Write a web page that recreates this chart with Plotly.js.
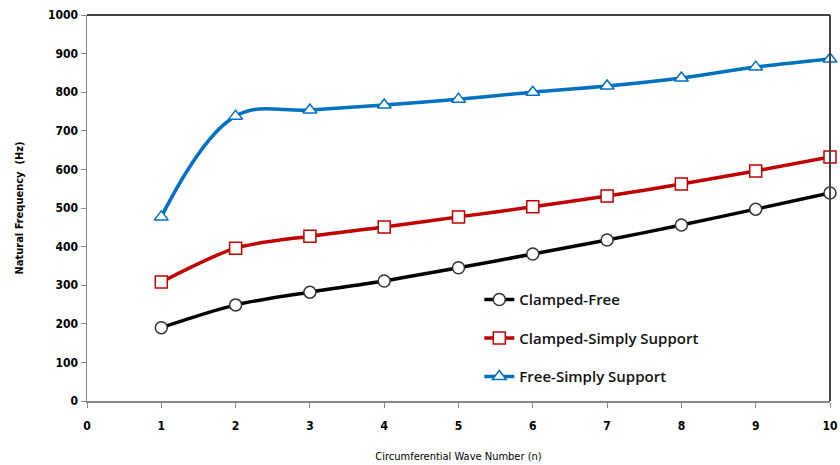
<!DOCTYPE html>
<html><head><meta charset="utf-8">
<script src="https://cdn.plot.ly/plotly-3.0.1.min.js"></script>
<style>html,body{margin:0;padding:0;background:#fff}#chart{width:840px;height:465px}</style>
</head><body><div id="chart"></div>
<script>
var waveNumbers = [1,2,3,4,5,6,7,8,9,10];
var clampedFree = [190,249,282,311,345,381,417,456,497,539];
var clampedSimply = [308,396,427,451,477,503,531,562,596,632];
var freeSimply = [477,738,754,767,782,800,816,837,865,886];
var seriesNames = ["Clamped-Free","Clamped-Simply Support","Free-Simply Support"];
var xTicks = [0,1,2,3,4,5,6,7,8,9,10];
var yTicks = [0,100,200,300,400,500,600,700,800,900,1000];

function tr(y, name, color, sym, grp, sm){
  return {x: waveNumbers, y: y, name: name, type:'scatter', mode:'lines+markers',
    legendgroup: grp, cliponaxis:false,
    line:{color: color, width: 3.5, shape:'spline', smoothing:sm},
    marker:{symbol: sym, size: 12, color:'#ffffff', line:{color: color, width:1.5}}};
}
var data = [
  tr(clampedFree, seriesNames[0], '#000000', 'circle', 'a', 0.8),
  tr(clampedSimply, seriesNames[1], '#C00000', 'square', 'b', 0.8),
  tr(freeSimply, seriesNames[2], '#0070C0', 'triangle-up', 'c', 1.1)
];
data[0].marker.line.color = '#333333';

var fam = '"DejaVu Sans Condensed", "Liberation Sans", sans-serif';
var layout = {
  width:840, height:465,
  margin:{l:87, r:10, t:15, b:64},
  paper_bgcolor:'#fff', plot_bgcolor:'#fff',
  showlegend:true,
  legend:{x:0.528, y:0.305, xanchor:'left', yanchor:'top', bgcolor:'rgba(0,0,0,0)',
    tracegroupgap:16, itemwidth:30,
    font:{family:'"Open Sans", "Noto Sans", sans-serif', size:15, color:'#111', weight:600}},
  xaxis:{range:[0,10], tickvals:xTicks, ticktext:xTicks.map(String), showgrid:false, zeroline:false,
    showline:true, linecolor:'#888', linewidth:1.5, mirror:false,
    ticks:'outside', ticklen:5, tickcolor:'#888', tickfont:{family:fam, size:12, color:'#000', weight:'bold'},
    ticklabelstandoff:8,
    title:{text:'Circumferential Wave Number (n)', standoff:20,
      font:{family:fam, size:11, color:'#000'}}},
  yaxis:{range:[0,1000], tickvals:yTicks, showgrid:false, zeroline:false,
    showline:true, linecolor:'#888', linewidth:1.5,
    ticks:'outside', ticklen:5, tickcolor:'#888', tickfont:{family:fam, size:12, color:'#000', weight:'bold'},
    title:{text:'Natural Frequency  (Hz)', standoff:22,
      font:{family:fam, size:11, color:'#000', weight:'bold'}}},
  shapes:[
    {type:'line', xref:'paper', yref:'paper', x0:0, x1:1, y0:1, y1:1, line:{color:'#444', width:2}},
    {type:'line', xref:'paper', yref:'paper', x0:1, x1:1, y0:0, y1:1, line:{color:'#444', width:2}}
  ]
};
Plotly.newPlot('chart', data, layout, {displayModeBar:false, staticPlot:true});
</script></body></html>
